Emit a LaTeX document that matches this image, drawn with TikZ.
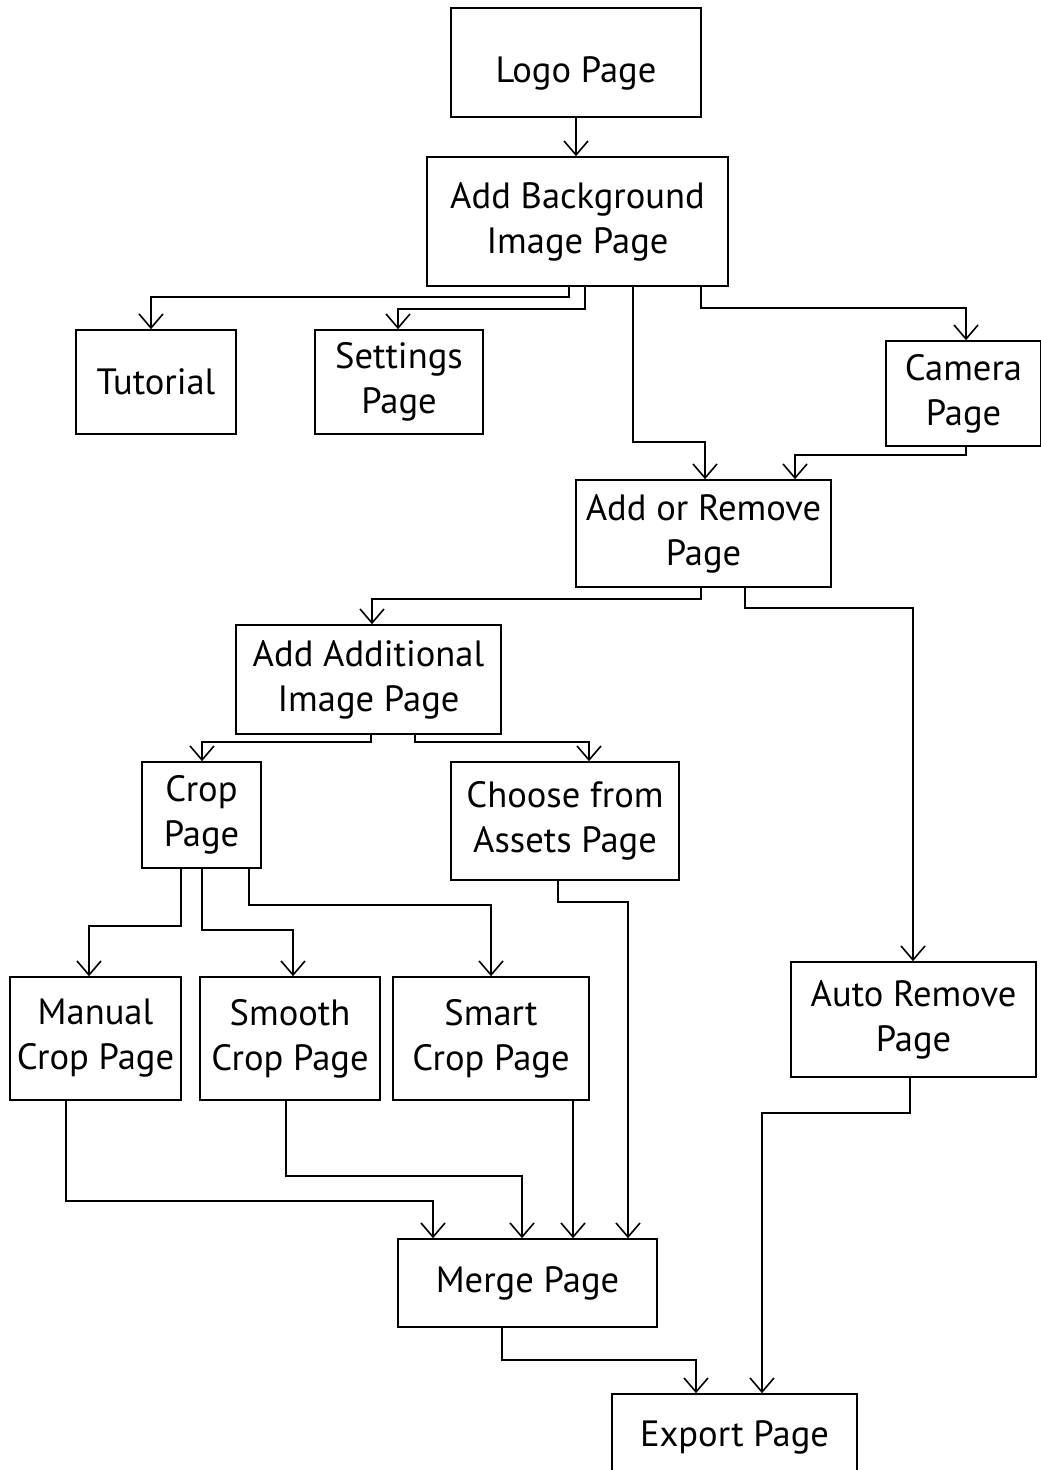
\documentclass[tikz,border=0pt]{standalone}
\usepackage{fontspec}
\setmainfont{PT Sans}
\usetikzlibrary{arrows.meta}

\tikzset{
  page/.style={draw, line width=0.4mm, inner sep=0pt, align=center,
    font=\fontsize{26pt}{32pt}\selectfont},
  flow/.style={line width=0.4mm, -{Straight Barb[length=3.5mm,width=6mm]}}
}

\begin{document}
\begin{tikzpicture}[x=0.25mm,y=-0.25mm]
      \useasboundingbox (0,0) rectangle (1041,1470);

      % Draw the pages
      \node[page, minimum width=62.5mm, minimum height=27.25mm, text height=10mm, text depth=0mm] (logo) at (576,62.5) {Logo Page};
      \node[page, minimum width=75.25mm, minimum height=32.25mm] (addbg) at (577.5,221.5) {Add Background\\Image Page};
      \node[page, minimum width=40mm, minimum height=26mm] (tutorial) at (156,382) {Tutorial};
      \node[page, minimum width=42mm, minimum height=26mm] (settings) at (399,382) {Settings\\Page};
      \node[page, minimum width=38.75mm, minimum height=26.25mm] (camera) at (963.5,393.5) {Camera\\Page};
      \node[page, minimum width=63.75mm, minimum height=26.75mm] (addremove) at (703.5,533.5) {Add or Remove\\Page};
      \node[page, minimum width=66.25mm, minimum height=27.25mm] (addadd) at (368.5,679.5) {Add Additional\\Image Page};
      \node[page, minimum width=29.75mm, minimum height=26.5mm] (crop) at (201.5,815) {Crop\\Page};
      \node[page, minimum width=57mm, minimum height=29.5mm] (assets) at (565,821) {Choose from\\Assets Page};
      \node[page, minimum width=42.75mm, minimum height=30.75mm] (manual) at (95.5,1038.5) {Manual\\Crop Page};
      \node[page, minimum width=45mm, minimum height=30.75mm] (smooth) at (290,1038.5) {Smooth\\Crop Page};
      \node[page, minimum width=49mm, minimum height=30.75mm] (smart) at (491,1038.5) {Smart\\Crop Page};
      \node[page, minimum width=61.25mm, minimum height=28.75mm] (autoremove) at (913.5,1019.5) {Auto Remove\\Page};
      \node[page, minimum width=64.75mm, minimum height=22mm] (merge) at (527.5,1283) {Merge Page};
      \node[page, minimum width=61.25mm, minimum height=21.75mm] (export) at (734.5,1437.5) {Export Page};

      % Connect them
      \draw[flow] (logo) -- (576,0 |- addbg.north);
      \draw[flow] (569,0 |- addbg.south) |- (151,297) -- (151,0 |- tutorial.north);
      \draw[flow] (585,0 |- addbg.south) |- (398,309) -- (398,0 |- settings.north);
      \draw[flow] (633,0 |- addbg.south) |- (705,442) -- (705,0 |- addremove.north);
      \draw[flow] (701,0 |- addbg.south) |- (966,308) -- (966,0 |- camera.north);
      \draw[flow] (966,0 |- camera.south) |- (795,455) -- (795,0 |- addremove.north);

      \draw[flow] (701,0 |- addremove.south) |- (372,599) -- (372,0 |- addadd.north);
      \draw[flow] (745,0 |- addremove.south) |- (913,608) -- (913,0 |- autoremove.north);

      \draw[flow] (371,0 |- addadd.south) |- (202,742) -- (202,0 |- crop.north);
      \draw[flow] (415,0 |- addadd.south) |- (589,742) -- (589,0 |- assets.north);

      \draw[flow] (181,0 |- crop.south) |- (89,926) -- (89,0 |- manual.north);
      \draw[flow] (202,0 |- crop.south) |- (293,930) -- (293,0 |- smooth.north);
      \draw[flow] (249,0 |- crop.south) |- (491,905) -- (491,0 |- smart.north);

      \draw[flow] (558,0 |- assets.south) |- (628,902) -- (628,0 |- merge.north);
      \draw[flow] (66,0 |- manual.south) |- (433,1201) -- (433,0 |- merge.north);
      \draw[flow] (286,0 |- smooth.south) |- (522,1176) -- (522,0 |- merge.north);
      \draw[flow] (573,0 |- smart.south) -- (573,0 |- merge.north);

      \draw[flow] (502,0 |- merge.south) |- (696,1360) -- (696,0 |- export.north);
      \draw[flow] (910,0 |- autoremove.south) |- (762,1113) -- (762,0 |- export.north);
    \end{tikzpicture}
\end{document}
